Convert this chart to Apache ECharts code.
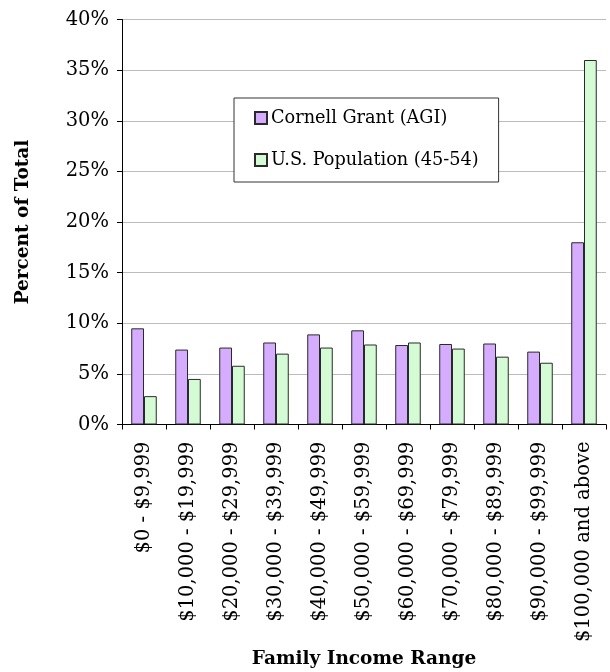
<!DOCTYPE html>
<html>
<head>
<meta charset="utf-8">
<script src="https://cdn.jsdelivr.net/npm/echarts@6/dist/echarts.min.js"></script>
<style>
  html, body { margin: 0; padding: 0; background: #fff; }
  #chart { width: 610px; height: 672px; }
</style>
</head>
<body>
<div id="chart"></div>
<script>
// Income brackets along the x axis
const categories = [
  '$0 - $9,999', '$10,000 - $19,999', '$20,000 - $29,999', '$30,000 - $39,999',
  '$40,000 - $49,999', '$50,000 - $59,999', '$60,000 - $69,999', '$70,000 - $79,999',
  '$80,000 - $89,999', '$90,000 - $99,999', '$100,000 and above'
];
// Share of total (percent) in each bracket
const cornellGrant = [9.5, 7.4, 7.6, 8.1, 8.9, 9.3, 7.85, 7.95, 8.0, 7.2, 18.0];
const usPopulation = [2.8, 4.5, 5.8, 7.0, 7.6, 7.9, 8.1, 7.5, 6.7, 6.1, 36.0];
const seriesNames = ['Cornell Grant (AGI)', 'U.S. Population (45-54)'];

const FONT = 'DejaVu Serif';
const chart = echarts.init(document.getElementById('chart'), null, { renderer: 'canvas' });

chart.setOption({
  animation: false,
  backgroundColor: '#ffffff',
  textStyle: { fontFamily: FONT, color: '#000' },
  grid: {
    left: 122, right: 4, top: 19.5, bottom: 247.5,
    containLabel: false,
    outerBoundsMode: 'none'
  },
  legend: {
    orient: 'vertical',
    left: 234,
    top: 98,
    padding: [10, 20, 12, 20],
    itemGap: 22,
    itemWidth: 12,
    itemHeight: 12,
    icon: 'rect',
    borderColor: '#333',
    borderWidth: 1,
    backgroundColor: '#fff',
    textStyle: { fontFamily: FONT, fontSize: 17.7, color: '#000', lineHeight: 20, padding: [0, 0, 0, -1] },
    data: seriesNames
  },
  xAxis: {
    type: 'category',
    data: categories,
    name: 'Family Income Range',
    nameLocation: 'middle',
    nameGap: 220,
    nameTextStyle: { fontFamily: FONT, fontSize: 18.5, fontWeight: 'bold', color: '#000' },
    axisLine: { lineStyle: { color: '#000', width: 1 } },
    axisTick: { show: true, length: 5, alignWithLabel: false, lineStyle: { color: '#000' } },
    axisLabel: {
      rotate: 90,
      interval: 0,
      margin: 17,
      fontFamily: FONT,
      fontSize: 19.5,
      color: '#000'
    },
    splitLine: { show: false }
  },
  yAxis: {
    type: 'value',
    min: 0,
    max: 40,
    interval: 5,
    name: 'Percent of Total',
    nameLocation: 'middle',
    nameGap: 89,
    nameRotate: 90,
    nameTextStyle: { fontFamily: FONT, fontSize: 18.5, fontWeight: 'bold', color: '#000' },
    axisLine: { show: true, lineStyle: { color: '#000', width: 1 } },
    axisTick: { show: true, length: 5, inside: false, lineStyle: { color: '#000' } },
    axisLabel: {
      formatter: '{value}%',
      margin: 13,
      fontFamily: FONT,
      fontSize: 19.5,
      color: '#000'
    },
    splitLine: { show: true, lineStyle: { color: '#bcbcbc', width: 1 } }
  },
  series: [
    {
      name: seriesNames[0],
      type: 'bar',
      data: cornellGrant,
      barGap: '0%',
      barCategoryGap: '42%',
      itemStyle: { color: '#d5acff', borderColor: '#2a2a2a', borderWidth: 1 }
    },
    {
      name: seriesNames[1],
      type: 'bar',
      data: usPopulation,
      barGap: '0%',
      barCategoryGap: '42%',
      itemStyle: { color: '#d4fcd4', borderColor: '#2a2a2a', borderWidth: 1 }
    }
  ]
});
</script>
</body>
</html>
